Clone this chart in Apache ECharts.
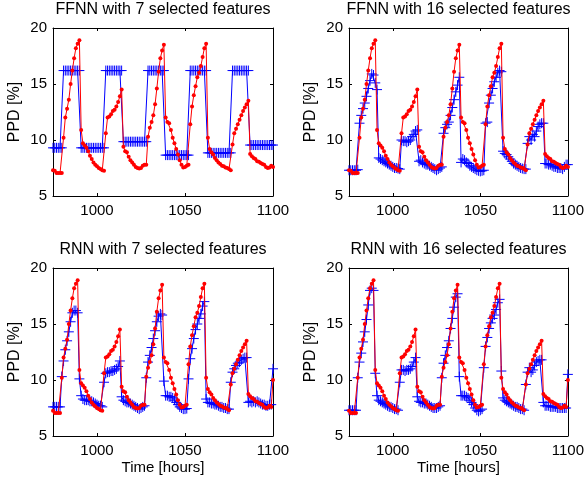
<!DOCTYPE html>
<html><head><meta charset="utf-8">
<script src="https://cdn.jsdelivr.net/npm/echarts@6/dist/echarts.min.js"></script>
<style>html,body{margin:0;padding:0;background:#fff}#c{width:587px;height:480px}</style>
</head><body><div id="c"></div>
<script>
// Time axis (hours)
const hours = [975,976,977,978,979,980,981,982,983,984,985,986,987,988,989,990,991,992,993,994,995,996,997,998,999,1000,1001,1002,1003,1004,1005,1006,1007,1008,1009,1010,1011,1012,1013,1014,1015,1016,1017,1018,1019,1020,1021,1022,1023,1024,1025,1026,1027,1028,1029,1030,1031,1032,1033,1034,1035,1036,1037,1038,1039,1040,1041,1042,1043,1044,1045,1046,1047,1048,1049,1050,1051,1052,1053,1054,1055,1056,1057,1058,1059,1060,1061,1062,1063,1064,1065,1066,1067,1068,1069,1070,1071,1072,1073,1074,1075,1076,1077,1078,1079,1080,1081,1082,1083,1084,1085,1086,1087,1088,1089,1090,1091,1092,1093,1094,1095,1096,1097,1098,1099,1100];

// Measured PPD (red) as plotted in the RNN panels
const actualRNN = [
 7.25,7.05,7.05,7.05,7.05,
 10.2,12.0,12.8,13.6,15.0,16.2,17.3,18.2,18.6,18.9,
 10.9,
 9.7,9.5,9.3,9.0,8.6,8.3,8.0,7.8,7.65,7.5,7.4,7.3,7.25,
 10.6,12.0,12.1,12.3,12.6,12.7,13.0,13.4,13.9,14.5,
 9.4,
 9.0,8.9,8.5,8.2,8.0,7.8,7.6,7.5,7.45,7.5,7.7,7.8,7.8,
 10.3,11.1,11.6,12.2,13.2,14.6,16.1,17.3,18.0,18.5,
 12.0,
 11.6,11.5,10.9,10.2,9.7,9.2,8.7,8.2,7.8,7.55,7.6,7.7,7.8,
 11.4,13.0,14.0,14.8,15.6,16.0,16.6,17.4,18.2,18.6,
 10.2,
 9.2,8.9,8.7,8.4,8.2,8.0,7.85,7.7,7.65,7.55,7.5,7.4,7.3,
 9.6,10.6,11.0,11.4,11.8,12.2,12.6,12.9,13.2,13.5,
 8.75,
 8.55,8.4,8.3,8.1,8.05,7.95,7.85,7.8,7.6,7.5,7.55,7.7,7.6,
 10.0
];
// Measured PPD (red) as plotted in the FFNN panels (one hour later)
const actualFFNN = [
 7.3,7.25,7.05,7.05,7.05,7.05,
 10.2,12.0,12.8,13.6,15.0,16.2,17.3,18.2,18.6,18.9,
 10.9,
 9.7,9.5,9.3,9.0,8.6,8.3,8.0,7.8,7.65,7.5,7.4,7.3,7.25,
 10.6,12.0,12.1,12.3,12.6,12.7,13.0,13.4,13.9,14.5,
 9.4,
 9.0,8.9,8.5,8.2,8.0,7.8,7.6,7.5,7.45,7.5,7.7,7.8,7.8,
 10.3,11.1,11.6,12.2,13.2,14.6,16.1,17.3,18.0,18.5,
 12.0,
 11.6,11.5,10.9,10.2,9.7,9.2,8.7,8.2,7.8,7.55,7.6,7.7,7.8,
 11.4,13.0,14.0,14.8,15.6,16.0,16.6,17.4,18.2,18.6,
 10.2,
 9.2,8.9,8.7,8.4,8.2,8.0,7.85,7.7,7.65,7.55,7.5,7.4,7.3,
 9.6,10.6,11.0,11.4,11.8,12.2,12.6,12.9,13.2,13.5,
 8.75,
 8.55,8.4,8.3,8.1,8.05,7.95,7.85,7.8,7.6,7.5,7.55,7.7,7.6
];

// Predictions (blue)
const ffnn7Pred = [
 9.3,9.3,9.3,9.3,9.3,9.3,
 16.2,16.2,16.2,16.2,16.2,16.2,16.2,16.2,16.2,16.2,
 9.3,9.3,9.3,9.3,9.3,9.3,9.3,9.3,9.3,9.3,9.3,9.3,9.3,9.3,
 16.2,16.2,16.2,16.2,16.2,16.2,16.2,16.2,16.2,16.2,
 9.85,9.85,9.85,9.85,9.85,9.85,9.85,9.85,9.85,9.85,9.85,9.85,9.85,9.85,
 16.2,16.2,16.2,16.2,16.2,16.2,16.2,16.2,16.2,16.2,
 8.65,8.65,8.65,8.65,8.65,8.65,8.65,8.65,8.65,8.65,8.65,8.65,8.65,8.65,
 16.2,16.2,16.2,16.2,16.2,16.2,16.2,16.2,16.2,16.2,
 8.85,8.85,8.85,8.85,8.85,8.85,8.85,8.85,8.85,8.85,8.85,8.85,8.85,8.85,
 16.2,16.2,16.2,16.2,16.2,16.2,16.2,16.2,16.2,16.2,
 9.55,9.55,9.55,9.55,9.55,9.55,9.55,9.55,9.55,9.55,9.55,9.55,9.55,9.55
];
const ffnn16Pred = [
 7.3,7.3,7.3,7.3,7.3,7.35,
 11.5,12.2,12.8,13.3,13.9,14.6,15.3,15.9,15.8,15.1,
 14.5,
 8.4,8.3,8.2,8.1,8.0,7.9,7.8,7.7,7.6,7.5,7.5,7.45,7.4,
 10.0,9.9,9.9,9.8,9.9,10.0,10.3,10.5,10.8,10.9,
 8.1,
 8.2,8.0,7.9,7.8,7.8,7.7,7.6,7.5,7.4,7.3,7.4,7.5,7.6,
 10.6,11.1,11.4,11.6,12.2,12.9,13.6,14.3,14.9,15.6,
 8.0,
 8.3,8.2,8.0,7.9,7.7,7.6,7.5,7.4,7.3,7.25,7.2,7.25,7.3,
 11.5,11.6,13.3,14.0,14.6,15.2,15.6,16.0,16.2,16.1,
 9.0,
 8.8,8.7,8.5,8.3,8.1,7.9,7.8,7.7,7.6,7.5,7.45,7.4,7.4,
 9.7,10.3,10.0,10.5,10.3,10.8,11.2,11.4,11.5,11.5,
 7.9,
 7.9,7.8,7.8,7.7,7.6,7.6,7.5,7.5,7.5,7.4,7.6,7.8,7.8
];
const rnn7Pred = [
 7.6,7.6,7.6,7.6,7.6,
 10.3,11.7,12.7,13.5,14.3,15.2,16.0,16.2,16.2,16.0,
 10.1,
 8.6,8.3,8.2,8.2,8.2,8.1,8.1,8.0,7.9,7.8,7.7,7.7,7.6,
 9.8,10.6,10.7,10.7,10.8,10.8,10.9,11.0,11.2,11.7,
 8.5,
 8.2,8.1,8.0,8.0,7.9,7.8,7.7,7.6,7.5,7.4,7.5,7.6,7.7,
 10.2,11.6,12.2,12.9,13.7,14.4,15.2,15.7,15.9,15.8,
 9.9,
 8.6,8.6,8.5,8.5,8.4,8.2,8.0,7.8,7.6,7.5,7.4,7.4,7.45,
 10.1,11.9,12.8,13.7,14.5,15.0,15.5,15.9,16.6,17.0,
 8.3,
 8.0,8.0,7.9,7.9,7.8,7.8,7.7,7.6,7.6,7.5,7.5,7.4,7.4,
 9.8,10.7,11.0,11.3,11.5,11.6,11.8,11.9,12.0,12.0,
 8.0,
 8.1,8.0,8.1,8.0,8.1,8.0,7.9,7.8,7.8,7.7,7.7,7.8,7.8,
 11.0
];
const rnn16Pred = [
 7.3,7.3,7.3,7.3,7.3,
 10.2,11.6,12.4,13.4,14.3,15.4,16.7,18.0,18.2,18.0,
 10.6,
 8.6,8.2,8.1,8.0,7.9,7.8,7.7,7.6,7.6,7.5,7.4,7.4,7.3,
 9.8,10.9,10.9,10.8,10.9,10.9,11.0,11.2,11.6,12.0,
 8.5,
 8.1,8.0,8.0,7.9,7.9,7.8,7.7,7.6,7.5,7.5,7.5,7.6,7.7,
 10.2,11.5,12.2,12.9,13.5,14.6,15.5,16.5,17.4,17.7,
 10.3,
 8.6,8.6,8.6,8.5,8.4,8.2,8.0,7.8,7.5,7.3,7.2,7.3,7.4,
 11.1,13.0,13.8,14.6,15.1,15.5,15.8,16.3,16.9,17.2,
 10.8,
 8.4,8.2,8.1,8.0,7.9,7.8,7.7,7.6,7.6,7.5,7.4,7.4,7.3,
 9.6,10.7,11.1,10.7,10.9,11.3,11.6,11.7,11.8,11.8,
 8.0,
 7.7,7.7,7.7,7.6,7.6,7.6,7.6,7.5,7.5,7.5,7.5,7.5,7.5,
 10.5
];

const xTickValues = [1000, 1050, 1100];
const titles = ['FFNN with 7 selected features','FFNN with 16 selected features','RNN with 7 selected features','RNN with 16 selected features'];
const yLabel = 'PPD [%]';
const xLabel = 'Time [hours]';

const FONT = '"Liberation Sans", Arial, Helvetica, sans-serif';
const PLUS = 'path://M0,5L10,5M5,0L5,10';

const panels = [
  {title: titles[0], act: actualFFNN, pred: ffnn7Pred,  left: 53,  top: 28,  width: 220, height: 168, xlab: false},
  {title: titles[1], act: actualFFNN, pred: ffnn16Pred, left: 349, top: 28,  width: 219, height: 168, xlab: false},
  {title: titles[2], act: actualRNN,  pred: rnn7Pred,   left: 53,  top: 268, width: 220, height: 168, xlab: true},
  {title: titles[3], act: actualRNN,  pred: rnn16Pred,  left: 349, top: 268, width: 219, height: 168, xlab: true}
];

const grid = [], xAxis = [], yAxis = [], series = [], graphic = [];
const lineCol = '#000';
const plain = v => String(v);
panels.forEach((p, i) => {
  grid.push({left: p.left, top: p.top, width: p.width, height: p.height, show: false});
  const xBase = {
    type: 'value', gridIndex: i, min: 975, max: 1100,
    splitLine: {show: false},
    axisLine: {show: true, onZero: false, lineStyle: {color: lineCol, width: 1}},
    axisTick: {show: true, inside: true, length: 3, customValues: xTickValues, lineStyle: {color: lineCol}},
  };
  xAxis.push(Object.assign({}, xBase, {position: 'bottom',
    axisLabel: {show: true, customValues: xTickValues, formatter: plain, color: '#000', fontSize: 15, fontFamily: FONT, margin: 7}}));
  xAxis.push(Object.assign({}, xBase, {position: 'top', axisLabel: {show: false}}));
  const yBase = {
    type: 'value', gridIndex: i, min: 5, max: 20, interval: 5,
    splitLine: {show: false},
    axisLine: {show: true, onZero: false, lineStyle: {color: lineCol, width: 1}},
    axisTick: {show: true, inside: true, length: 3, lineStyle: {color: lineCol}},
  };
  yAxis.push(Object.assign({}, yBase, {position: 'left',
    axisLabel: {show: true, formatter: plain, color: '#000', fontSize: 15, fontFamily: FONT, margin: 6}}));
  yAxis.push(Object.assign({}, yBase, {position: 'right', axisLabel: {show: false}}));

  const predData = [], actData = [];
  for (let k = 0; k < p.pred.length; k++) predData.push([hours[k], p.pred[k]]);
  for (let k = 0; k < p.act.length; k++) actData.push([hours[k], p.act[k]]);
  series.push({
    type: 'line', xAxisIndex: 2 * i, yAxisIndex: 2 * i, data: predData,
    symbol: PLUS, symbolSize: 10, showAllSymbol: true, clip: false,
    lineStyle: {color: '#0000ff', width: 1},
    itemStyle: {color: '#0000ff', borderColor: '#0000ff', borderWidth: 1},
    emphasis: {disabled: true}, silent: true, z: 2
  });
  series.push({
    type: 'line', xAxisIndex: 2 * i, yAxisIndex: 2 * i, data: actData,
    symbol: 'circle', symbolSize: 4, showAllSymbol: true, clip: false,
    lineStyle: {color: '#ff0000', width: 1},
    itemStyle: {color: '#ff0000', borderWidth: 0},
    emphasis: {disabled: true}, silent: true, z: 3
  });

  const cx = p.left + p.width / 2;
  graphic.push({type: 'text', x: cx, y: p.top - 18, style: {text: p.title, fill: '#000', font: '16px ' + FONT, textAlign: 'center', textVerticalAlign: 'middle'}});
  graphic.push({type: 'text', x: p.left - 38, y: p.top + p.height / 2, rotation: Math.PI / 2,
    style: {text: yLabel, fill: '#000', font: '16px ' + FONT, textAlign: 'center', textVerticalAlign: 'middle'}});
  if (p.xlab) {
    graphic.push({type: 'text', x: cx, y: p.top + p.height + 32, style: {text: xLabel, fill: '#000', font: '15px ' + FONT, textAlign: 'center', textVerticalAlign: 'middle'}});
  }
});

const chart = echarts.init(document.getElementById('c'), null, {renderer: 'canvas'});
chart.setOption({animation: false, backgroundColor: '#fff', grid, xAxis, yAxis, series, graphic});
</script></body></html>
